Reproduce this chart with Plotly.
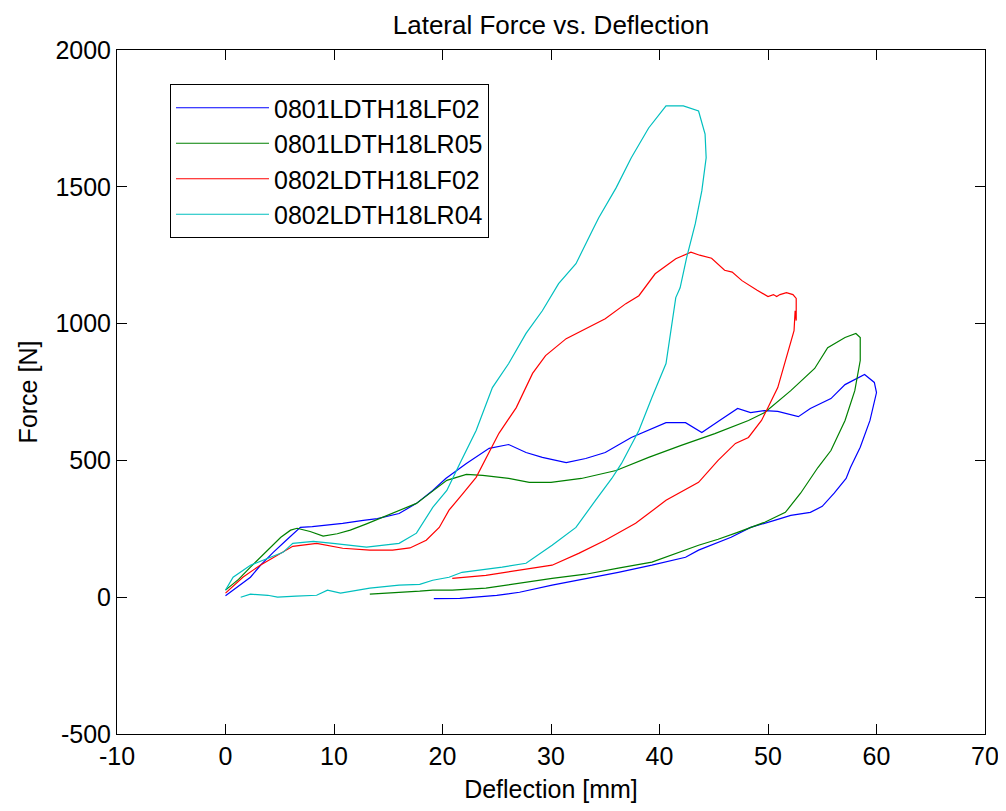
import plotly.graph_objects as go

# ---------------- data ----------------
names = ["0801LDTH18LF02", "0801LDTH18LR05", "0802LDTH18LF02", "0802LDTH18LR04"]
colors = ["rgb(0,0,255)", "rgb(0,128,0)", "rgb(255,0,0)", "rgb(0,191,191)"]

lf02_0801_x = [0, 1.0, 2.3, 3.3, 4.4, 5.6, 6.9, 8.0, 9.0, 10.8, 12.7, 14.0, 16.0, 17.6, 19.1, 20.3, 22.2, 24.3,
               26.1, 27.7, 29.2, 31.4, 33.2, 35.0, 37.4, 40.6, 42.4, 43.9, 45.4, 47.2, 48.4, 49.7, 50.9, 52.8,
               53.9, 55.8, 57.1, 58.9, 59.8, 60.0, 59.4, 58.5, 57.6, 57.2, 56.1, 55.0, 53.9, 52.1, 50.6, 48.4,
               46.6, 44.8, 43.6, 42.4, 39.3, 36.2, 33.2, 30.1, 27.1, 25.0, 21.6, 19.2]
lf02_0801_y = [5, 35, 73, 120, 164, 208, 255, 258, 262, 270, 281, 287, 306, 343, 390, 434, 489, 544,
               558, 529, 511, 492, 507, 529, 584, 638, 638, 602, 642, 690, 675, 682, 679, 660,
               690, 726, 777, 814, 785, 748, 646, 548, 474, 434, 380, 332, 310, 299, 281, 255,
               219, 190, 172, 146, 117, 91, 69, 44, 18, 7, -4, -5]

lr05_0801_x = [0, 1.2, 2.3, 3.9, 5.1, 6.0, 6.6, 7.8, 9.0, 10.3, 11.5, 13.0, 14.5, 16.0, 17.6, 19.0, 20.4, 22.2,
               23.7, 26.1, 28.0, 30.0, 32.8, 36.0, 39.0, 42.0, 45.1, 48.2, 49.7, 52.1, 54.3, 55.5, 57.1,
               58.1, 58.5, 58.5, 58.0, 57.1, 55.8, 54.6, 53.0, 51.6, 49.7, 47.2, 45.4, 43.6, 42.4, 39.3,
               36.2, 33.2, 30.1, 27.1, 24.0, 20.9, 19.1, 17.9, 14.9, 13.3]
lr05_0801_y = [26, 65, 110, 172, 219, 245, 252, 240, 223, 232, 245, 268, 292, 318, 343, 385, 427, 449,
               445, 434, 420, 420, 434, 463, 511, 555, 598, 646, 675, 755, 836, 912, 949,
               964, 949, 865, 755, 646, 536, 474, 380, 310, 274, 237, 212, 190, 172, 128,
               106, 84, 69, 51, 33, 26, 26, 22, 15, 11]

lf02_0802_x = [0, 1.6, 3.2, 4.7, 6.2, 8.4, 10.8, 13.3, 15.4, 17.0, 18.5, 19.7, 20.6, 21.8, 23.1, 25.2, 26.8,
               28.3, 29.5, 31.4, 33.2, 35.0, 36.9, 38.1, 39.6, 41.5, 42.9, 43.7, 44.8, 46.0, 46.7, 47.6,
               49.0, 50.0, 50.5, 50.8, 51.1, 51.7, 52.3, 52.6, 52.6, 52.5, 52.4, 51.8, 50.9, 50.0, 49.4,
               48.2, 47.0, 45.4, 43.6, 40.6, 37.8, 35.0, 32.6, 30.1, 27.1, 24.0, 20.9]
lf02_0802_y = [15, 73, 117, 153, 186, 197, 179, 172, 172, 180, 208, 255, 318, 375, 438, 599, 693,
               818, 883, 945, 982, 1018, 1073, 1102, 1182, 1237, 1261, 1250, 1239, 1195, 1188, 1157,
               1122, 1099, 1106, 1099, 1106, 1113, 1106, 1092, 1011, 1047, 974, 890, 766, 693, 646,
               584, 562, 500, 420, 354, 270, 208, 161, 117, 99, 80, 69]

lr04_0802_x = [0, 0.7, 2.3, 3.9, 5.3, 6.2, 8.1, 9.9, 13.0, 16.0, 17.6, 19.1, 20.4, 21.6, 23.1, 24.6, 26.1,
               27.7, 29.2, 30.7, 32.3, 33.8, 34.4, 36.0, 37.4, 39.0, 40.6, 42.2, 43.6, 44.2, 44.3, 43.9,
               43.3, 42.5, 41.9, 41.5, 40.6, 39.3, 38.1, 36.5, 35.6, 34.1, 32.3, 30.1, 27.7, 25.5, 23.4,
               21.8, 20.6, 19.1, 17.9, 16.0, 13.3, 10.6, 9.4, 8.4, 6.5, 4.8, 3.9, 2.3, 1.4]
lr04_0802_y = [26, 73, 117, 142, 164, 197, 204, 197, 183, 197, 234, 328, 390, 489, 609, 766, 854,
               964, 1047, 1146, 1219, 1339, 1387, 1496, 1606, 1715, 1796, 1796, 1777, 1693, 1606, 1485,
               1365, 1241, 1131, 1095, 854, 730, 609, 489, 434, 354, 255, 190, 124, 110, 99,
               91, 73, 62, 47, 44, 33, 15, 26, 7, 4, 0, 7, 11, 0]

series_x = [lf02_0801_x, lr05_0801_x, lf02_0802_x, lr04_0802_x]
series_y = [lf02_0801_y, lr05_0801_y, lf02_0802_y, lr04_0802_y]

x_ticks = [-10, 0, 10, 20, 30, 40, 50, 60, 70]
x_tick_labels = ["-10", "0", "10", "20", "30", "40", "50", "60", "70"]
y_ticks = [-500, 0, 500, 1000, 1500, 2000]
y_tick_labels = ["-500", "0", "500", "1000", "1500", "2000"]

title_text = "Lateral Force vs. Deflection"
x_title = "Deflection [mm]"
y_title = "Force [N]"

# ---------------- figure ----------------
# The page body adds an 8 px offset, so the figure is 998x803 and margins are reduced by 8 px
FONT = "Liberation Sans, Arial, Helvetica, sans-serif"
FS = 25
W, H = 998, 803
fig = go.Figure()
for nm, col, xs, ys in zip(names, colors, series_x, series_y):
    fig.add_trace(go.Scatter(x=xs, y=ys, mode="lines", name=nm,
                             line=dict(color=col, width=1.2)))

axis_common = dict(showline=True, linecolor="black", linewidth=1, mirror="allticks",
                   ticks="inside", ticklen=10, tickcolor="black", tickwidth=1,
                   showgrid=False, zeroline=False, automargin=False,
                   tickfont=dict(family=FONT, size=FS, color="black"))

fig.update_layout(
    width=W, height=H,
    margin=dict(l=109, r=21, t=42, b=77, autoexpand=False),
    paper_bgcolor="white", plot_bgcolor="white",
    font=dict(family=FONT, size=FS, color="black"),
    title=dict(text=title_text, x=0.5, xref="paper", y=1 - 17 / H, yref="container",
               xanchor="center", yanchor="middle",
               font=dict(family=FONT, size=26, color="black")),
    xaxis=dict(range=[-10, 70], tickmode="array", tickvals=x_ticks, ticktext=x_tick_labels,
               title=dict(text=x_title, standoff=11, font=dict(family=FONT, size=FS)),
               **axis_common),
    yaxis=dict(range=[-500, 2000], tickmode="array", tickvals=y_ticks, ticktext=y_tick_labels,
               title=dict(text=y_title, standoff=10, font=dict(family=FONT, size=FS)),
               **axis_common),
    legend=dict(x=(170 - 117) / 868, y=(734 - 84) / 684, xanchor="left", yanchor="top",
                bgcolor="white", bordercolor="black", borderwidth=1,
                font=dict(family=FONT, size=FS, color="black"),
                itemwidth=93, tracegroupgap=0),
    showlegend=True,
)

fig.write_html("out.html")
